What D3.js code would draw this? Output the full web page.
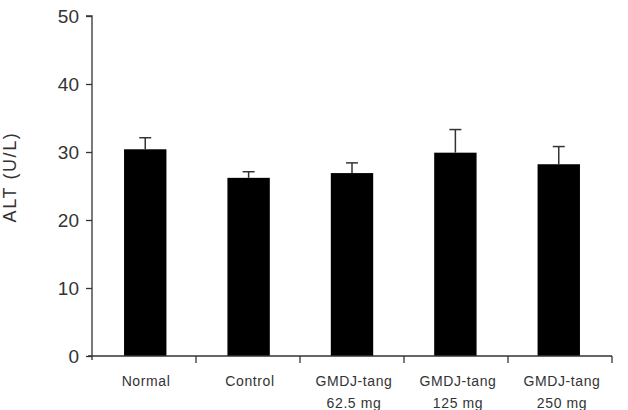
<html>
<head>
  <script src="https://d3js.org/d3.v7.min.js"></script>
  <style>
    body { margin: 0; background: #fff; }
    text { font-family: "Liberation Sans", Arial, sans-serif; fill: #333; }
  </style>
</head>
<body>
  <div id="chart"></div>
  <script>
    // groups, means and SD
    var groups = ["Normal", "Control", "GMDJ-tang|62.5 mg", "GMDJ-tang|125 mg", "GMDJ-tang|250 mg"];
    var means = [30.4, 26.2, 26.9, 29.9, 28.2];
    var errors = [1.7, 0.9, 1.5, 3.4, 2.6];
    var yTicks = [0, 10, 20, 30, 40, 50];

    var margin = {top: 16, right: 16, bottom: 54, left: 92};
    var width = 628 - margin.left - margin.right;
    var height = 410 - margin.top - margin.bottom;

    var x = d3.scaleBand().domain(groups).range([0, width]).paddingInner(0.59).paddingOuter(0.31);
    var xTick = d3.scaleBand().domain(groups).range([0, width]);
    var y = d3.scaleLinear().domain([0, 50]).range([height, 0]);

    var svg = d3.select("#chart").append("svg")
        .attr("width", 628).attr("height", 410)
      .append("g")
        .attr("transform", "translate(" + margin.left + "," + margin.top + ")");

    // bars
    svg.selectAll("rect.bar").data(groups).enter().append("rect")
      .attr("class", "bar")
      .attr("x", function(d) { return x(d); })
      .attr("y", function(d, i) { return y(means[i]); })
      .attr("width", x.bandwidth())
      .attr("height", function(d, i) { return height - y(means[i]); })
      .attr("fill", "#000");

    // error bars (upper only)
    var eb = svg.selectAll("g.err").data(groups).enter().append("g")
      .attr("class", "err")
      .attr("stroke", "#333").attr("stroke-width", 1.5);
    eb.append("line")
      .attr("x1", function(d) { return x(d) + x.bandwidth() / 2; })
      .attr("x2", function(d) { return x(d) + x.bandwidth() / 2; })
      .attr("y1", function(d, i) { return y(means[i]); })
      .attr("y2", function(d, i) { return y(means[i] + errors[i]); });
    eb.append("line")
      .attr("x1", function(d) { return x(d) + x.bandwidth() / 2 - 6; })
      .attr("x2", function(d) { return x(d) + x.bandwidth() / 2 + 6; })
      .attr("y1", function(d, i) { return y(means[i] + errors[i]); })
      .attr("y2", function(d, i) { return y(means[i] + errors[i]); });

    // y axis
    var yAxis = svg.append("g").call(d3.axisLeft(y).tickValues(yTicks).tickSize(6).tickPadding(7));
    yAxis.selectAll("path, line").attr("stroke", "#333").attr("stroke-width", 1.3);
    yAxis.select(".domain").attr("d", "M0," + (height + 4) + "V0H-6");
    yAxis.selectAll("text").style("font-size", "19px").style("fill", "#333");

    // x axis: ticks between categories pointing down
    var xAxis = svg.append("g").attr("transform", "translate(0," + height + ")");
    xAxis.append("line").attr("x1", -4).attr("x2", width).attr("stroke", "#333").attr("stroke-width", 1.3);
    xAxis.selectAll("line.tk").data(groups).enter().append("line")
      .attr("class", "tk")
      .attr("x1", function(d) { return xTick(d) + xTick.bandwidth(); })
      .attr("x2", function(d) { return xTick(d) + xTick.bandwidth(); })
      .attr("y1", 0).attr("y2", 7)
      .attr("stroke", "#333").attr("stroke-width", 1.3);

    var lbl = xAxis.selectAll("text.lbl").data(groups).enter().append("text")
      .attr("class", "lbl")
      .attr("text-anchor", "middle")
      .attr("transform", function(d) { return "translate(" + (xTick(d) + xTick.bandwidth() / 2 + 2) + ",30)"; })
      .style("font-size", "14px")
      .style("letter-spacing", "0.6px");
    lbl.selectAll("tspan").data(function(d) { return d.split("|"); }).enter().append("tspan")
      .attr("x", 0)
      .attr("dy", function(d, i) { return i === 0 ? 0 : 22; })
      .text(function(d) { return d; });

    // y label
    svg.append("text")
      .attr("transform", "translate(" + (-76) + "," + (height / 2 - 9) + ") rotate(-90)")
      .attr("text-anchor", "middle")
      .style("font-size", "18px")
      .style("letter-spacing", "1.6px")
      .text("ALT (U/L)");
  </script>
</body>
</html>
